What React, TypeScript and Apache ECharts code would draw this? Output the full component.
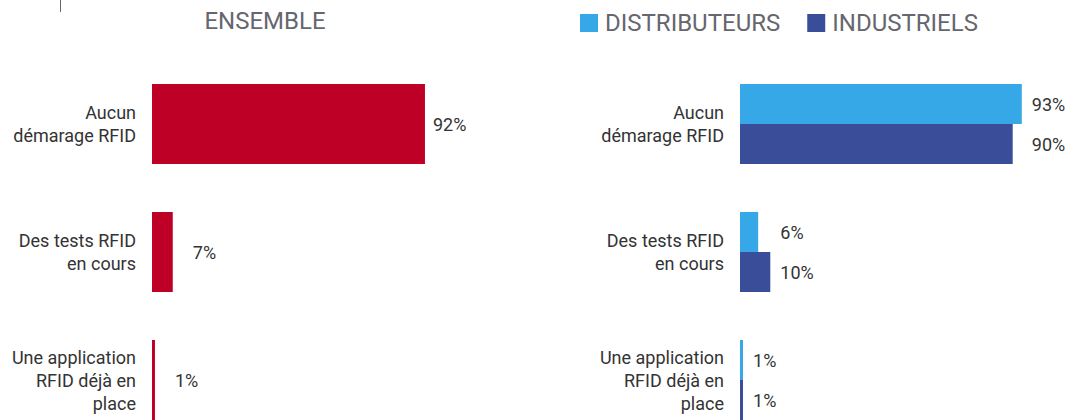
import React, { useEffect, useRef } from "react";
import * as echarts from "echarts";

const categories = [
  "Aucun\ndémarage RFID",
  "Des tests RFID\nen cours",
  "Une application\nRFID déjà en\nplace",
];
const ensemble = [92, 7, 1];
const distributeurs = [93, 6, 1];
const industriels = [90, 10, 1];
const leftTitle = "ENSEMBLE";
const seriesNames = ["DISTRIBUTEURS", "INDUSTRIELS"];

const RED = "#BE0026";
const LIGHT = "#36A8E8";
const DARK = "#394D99";
const FONT = "Roboto, 'DejaVu Sans', sans-serif";

export default function App() {
  const ref = useRef<HTMLDivElement>(null);
  useEffect(() => {
    if (!ref.current) return;
    const chart = echarts.init(ref.current, undefined, { renderer: "svg" });
    const leftW = 296.7;
    const rightW = 303;
    const leftDist = [8, 20, 20];
    const rightLabelGap = 10;
    const rightData = (vals: number[]) =>
      vals.map((v, i) => {
        const mx = Math.max(distributeurs[i], industriels[i]);
        return {
          value: v,
          label: { distance: ((mx - v) * rightW) / 100 + rightLabelGap },
        };
      });
    const labelStyle = {
      show: true,
      position: "right" as const,
      formatter: "{c}%",
      fontSize: 18,
      color: "#333",
      fontFamily: FONT,
    };
    const yAxisBase = {
      type: "category" as const,
      data: categories,
      inverse: true,
      axisLine: { show: false },
      axisTick: { show: false },
      splitLine: { show: false },
      axisLabel: {
        fontSize: 18,
        lineHeight: 23,
        color: "#333",
        margin: 16,
        fontFamily: FONT,
        align: "right" as const,
      },
    };
    const xAxisBase = {
      type: "value" as const,
      min: 0,
      max: 100,
      show: false,
    };
    chart.setOption({
      animation: false,
      textStyle: { fontFamily: FONT },
      title: {
        text: leftTitle,
        left: 265,
        top: 9,
        padding: 0,
        textAlign: "center",
        textStyle: {
          fontSize: 24,
          fontWeight: "normal",
          color: "#66666E",
          fontFamily: FONT,
        },
      },
      legend: {
        left: 580,
        top: 11,
        padding: 0,
        itemWidth: 18,
        itemHeight: 18,
        itemGap: 27,
        icon: "rect",
        data: seriesNames,
        textStyle: {
          fontSize: 24,
          color: "#66666E",
          fontFamily: FONT,
          padding: [0, 0, 0, 2],
        },
      },
      grid: [
        { left: 152, top: 60, width: leftW, height: 384 },
        { left: 740, top: 60, width: rightW, height: 384 },
      ],
      xAxis: [
        { ...xAxisBase, gridIndex: 0 },
        { ...xAxisBase, gridIndex: 1 },
      ],
      yAxis: [
        { ...yAxisBase, gridIndex: 0 },
        { ...yAxisBase, gridIndex: 1 },
      ],
      graphic: [
        {
          type: "line",
          shape: { x1: 60.5, y1: 0, x2: 60.5, y2: 12 },
          style: { stroke: "#666", lineWidth: 1 },
        },
      ],
      series: [
        {
          name: leftTitle,
          type: "bar",
          xAxisIndex: 0,
          yAxisIndex: 0,
          barCategoryGap: "37.5%",
          itemStyle: { color: RED },
          label: labelStyle,
          data: ensemble.map((v, i) => ({
            value: v,
            label: { distance: leftDist[i] },
          })),
        },
        {
          name: seriesNames[0],
          type: "bar",
          xAxisIndex: 1,
          yAxisIndex: 1,
          barGap: "0%",
          barCategoryGap: "37.5%",
          itemStyle: { color: LIGHT },
          label: labelStyle,
          data: rightData(distributeurs),
        },
        {
          name: seriesNames[1],
          type: "bar",
          xAxisIndex: 1,
          yAxisIndex: 1,
          barGap: "0%",
          barCategoryGap: "37.5%",
          itemStyle: { color: DARK },
          label: labelStyle,
          data: rightData(industriels),
        },
      ],
    });
    return () => chart.dispose();
  }, []);
  return (
    <div
      ref={ref}
      style={{ position: "absolute", left: 0, top: 0, width: 1076, height: 460 }}
    />
  );
}
